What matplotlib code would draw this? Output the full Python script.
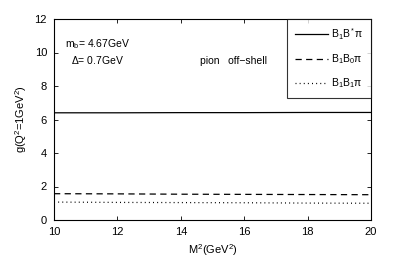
import matplotlib
matplotlib.use("Agg")
import matplotlib.pyplot as plt
import numpy as np

plt.rcParams['font.family'] = ['Liberation Sans', 'DejaVu Sans']
plt.rcParams['mathtext.fontset'] = 'custom'
plt.rcParams['mathtext.rm'] = 'Liberation Sans'
plt.rcParams['mathtext.it'] = 'Liberation Sans'

M2 = [10, 12, 14, 16, 18, 20]
g_BBstar = [6.40, 6.40, 6.41, 6.41, 6.42, 6.42]
g_BB0 = [1.57, 1.56, 1.54, 1.53, 1.52, 1.51]
g_BB1 = [1.07, 1.05, 1.04, 1.03, 1.01, 1.00]

fig = plt.figure(figsize=(4.09, 2.57), dpi=100)
ax = fig.add_axes([54/409, 1-220/257, (371-54)/409, (220-19)/257])

ax.plot(M2, g_BBstar, '-', color='black', lw=0.9, label=r'B$_1$B$^*\pi$')
ax.plot(M2, g_BB0, '--', color='black', lw=0.9, dashes=(5, 3.5), label=r'B$_1$B$_0\pi$')
ax.plot(M2, g_BB1, ':', color='black', lw=0.9, dashes=(0.8, 2.5), label=r'B$_1$B$_1\pi$')

ax.set_xlim(10, 20)
ax.set_ylim(0, 12)
ax.set_xticks([10, 12, 14, 16, 18, 20])
ax.set_yticks([0, 2, 4, 6, 8, 10, 12])
ax.tick_params(direction='in', top=True, right=True, labelsize=8, length=3, width=0.6)
ax.tick_params(axis='x', pad=5)
ax.tick_params(axis='y', pad=5)
for s in ax.spines.values():
    s.set_linewidth(0.8)

ax.set_xlabel(r'M$^2$(GeV$^2$)', fontsize=8, labelpad=4)
ax.set_ylabel(r'g(Q$^2$=1GeV$^2$)', fontsize=8, labelpad=4)

ax.text(0.035, 0.86, r'm$_\mathrm{b}$= 4.67GeV', transform=ax.transAxes, fontsize=7.5)
ax.text(0.055, 0.775, r'$\Delta$= 0.7GeV', transform=ax.transAxes, fontsize=7.5)
ax.text(0.46, 0.775, 'pion   off\u2212shell', transform=ax.transAxes, fontsize=7.5)

leg = ax.legend(loc='upper right', fontsize=7.5, frameon=True, fancybox=False,
                borderaxespad=0, handlelength=3.2, handletextpad=0.3,
                borderpad=0.7, labelspacing=1.0)
leg.get_frame().set_edgecolor('black')
leg.get_frame().set_linewidth(0.8)

fig.savefig('out.png', dpi=100)
